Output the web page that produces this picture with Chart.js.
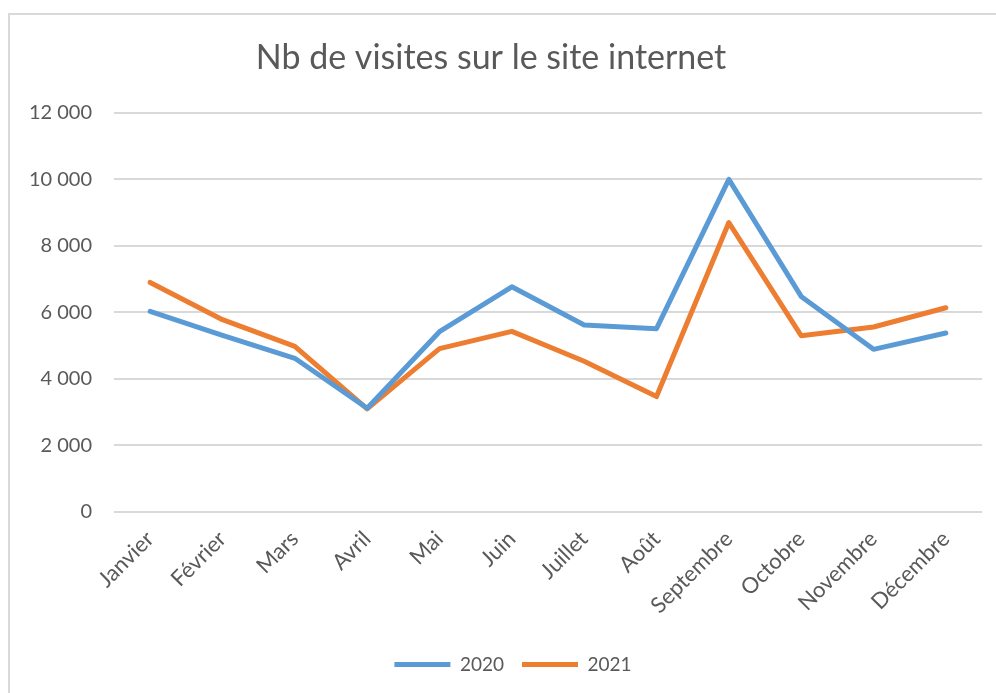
<!DOCTYPE html>
<html>
<head>
<meta charset="utf-8">
<script src="https://cdn.jsdelivr.net/npm/chart.js@4.4.0/dist/chart.umd.min.js"></script>
<style>
  html, body { margin: 0; padding: 0; background: #fff; overflow: hidden; }
  #wrap { position: relative; width: 996px; height: 693px; }
  #frame { position: absolute; left: 8px; top: 13px; width: 1000px; height: 700px; border: 2px solid #d9d9d9; box-sizing: border-box; }
  canvas { position: absolute; left: 0; top: 0; }
</style>
</head>
<body>
<div id="wrap">
  <div id="frame"></div>
  <canvas id="visitsChart" width="996" height="693"></canvas>
</div>
<script>
const months = ["Janvier", "Février", "Mars", "Avril", "Mai", "Juin", "Juillet", "Août", "Septembre", "Octobre", "Novembre", "Décembre"];
const visits2020 = [6030, 5310, 4620, 3120, 5420, 6770, 5620, 5510, 10000, 6480, 4890, 5380];
const visits2021 = [6900, 5780, 4980, 3100, 4910, 5430, 4530, 3470, 8700, 5300, 5560, 6140];

const textColor = "#595959";
const fontName = "Lato, 'Open Sans', sans-serif";

// the legend sits under the middle of the frame, a bit right of the canvas centre
const legendShift = {
    id: "legendShift",
    afterLayout(chart) {
        chart.legend.left += 22;
        chart.legend.right += 22;
    }
};

new Chart("visitsChart", {
    type: "line",
    data: {
        labels: months,
        datasets: [{
            label: "2020",
            data: visits2020,
            borderColor: "#5B9BD5",
            backgroundColor: "#5B9BD5",
            borderWidth: 5,
            borderCapStyle: "round",
            borderJoinStyle: "round",
            pointRadius: 0,
            fill: false,
            tension: 0
        }, {
            label: "2021",
            data: visits2021,
            borderColor: "#ED7D31",
            backgroundColor: "#ED7D31",
            borderWidth: 5,
            borderCapStyle: "round",
            borderJoinStyle: "round",
            pointRadius: 0,
            fill: false,
            tension: 0
        }]
    },
    plugins: [legendShift],
    options: {
        responsive: false,
        animation: false,
        layout: { padding: { left: 0, right: 14, top: 0, bottom: 9 } },
        plugins: {
            title: {
                display: true,
                text: "Nb de visites sur le site internet",
                color: textColor,
                font: { family: fontName, size: 34, weight: "normal" },
                padding: { top: 38, bottom: 34 }
            },
            legend: {
                position: "bottom",
                labels: {
                    color: textColor,
                    font: { family: fontName, size: 19 },
                    usePointStyle: true,
                    pointStyle: "line",
                    pointStyleWidth: 56,
                    padding: 18
                }
            },
            tooltip: { enabled: false }
        },
        scales: {
            x: {
                offset: true,
                grid: { display: false },
                border: { display: false },
                afterFit: function (scale) { scale.height = 125; },
                ticks: {
                    color: textColor,
                    font: { family: fontName, size: 22 },
                    minRotation: 45,
                    maxRotation: 45,
                    padding: 6
                }
            },
            y: {
                min: 0,
                max: 12000,
                afterFit: function (scale) { scale.width = 114; },
                grid: { color: "#d9d9d9", lineWidth: 2, drawTicks: false },
                border: { display: false },
                ticks: {
                    stepSize: 2000,
                    color: textColor,
                    font: { family: fontName, size: 20 },
                    padding: 22,
                    callback: function (v) { return v.toLocaleString("fr-FR").replace(/\s/g, " "); }
                }
            }
        }
    }
});
</script>
</body>
</html>
